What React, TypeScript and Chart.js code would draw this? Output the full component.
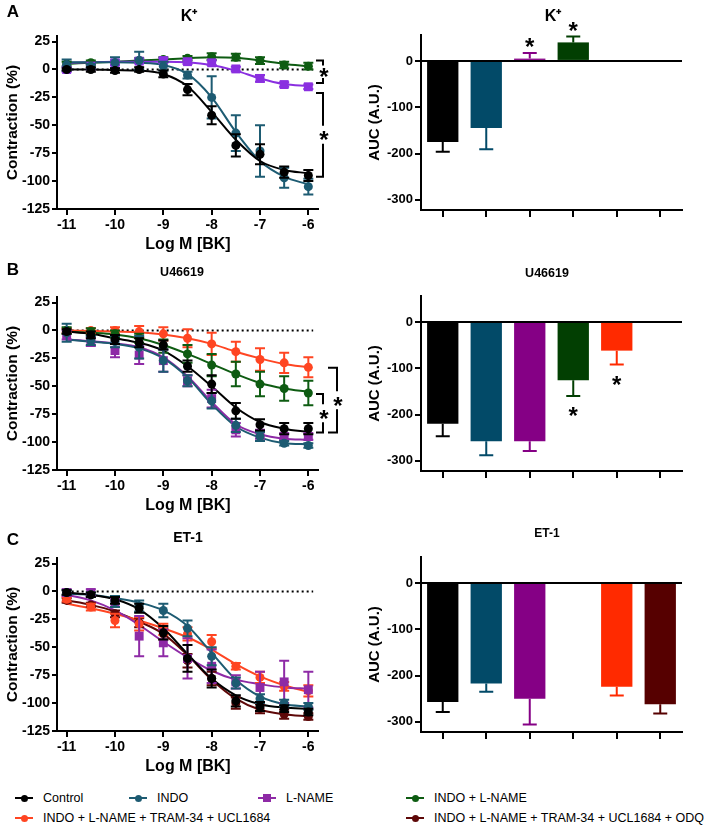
import React, { useEffect, useRef } from 'react';
import { Chart, registerables } from 'chart.js';

Chart.register(...registerables);

const FONT = '"Liberation Sans", Arial, Helvetica, sans-serif';

// ---------- shared axes / labels ----------
const LOG_BK = [-11, -10.5, -10, -9.5, -9, -8.5, -8, -7.5, -7, -6.5, -6];
const X_TICKS = [-11, -10, -9, -8, -7, -6];
const CURVE_Y_TICKS = [25, 0, -25, -50, -75, -100, -125];
const AUC_Y_TICKS = [0, -100, -200, -300];
const GROUPS = [
  'Control',
  'INDO',
  'L-NAME',
  'INDO + L-NAME',
  'INDO + L-NAME + TRAM-34 + UCL1684',
  'INDO + L-NAME + TRAM-34 + UCL1684 + ODQ',
];
const PANEL_LETTERS = ['A', 'B', 'C'];
const PANEL_TITLES = ['K⁺', 'U46619', 'ET-1'];
const X_TITLE = 'Log M [BK]';
const Y_TITLE_CURVE = 'Contraction (%)';
const Y_TITLE_AUC = 'AUC (A.U.)';

// ---------- Panel A : K+ ----------
const K_CONTROL = [0, 0, -1, 0, -4, -18, -41, -68, -76, -92, -95];
const K_CONTROL_SEM = [1, 2, 2, 2, 3, 5, 8, 10, 9, 5, 5];
const K_CONTROL_FIT = [0, 0, -0.5, -1, -4, -15, -38, -63, -82, -90, -93];
const K_INDO = [4, 3, 6, 8, 3, -5, -25, -57, -73, -97, -105];
const K_INDO_SEM = [5, 2, 5, 8, 4, 3, 19, 16, 23, 9, 7];
const K_INDO_FIT = [6.5, 6.5, 6.5, 6, 4, -4, -25, -56, -82, -96, -103];
const K_LNAME = [0, 3, 6, 7.5, 8, 7, 6, 0.5, -8, -13.5, -15.5];
const K_LNAME_SEM = [2, 2, 2, 2, 2, 2, 2, 2, 3, 2, 2];
const K_LNAME_FIT = [6, 6.5, 7, 7, 7, 6.5, 4, -1, -8, -13, -15];
const K_INDO_LNAME = [5, 6, 6, 8, 9, 10, 11.5, 11, 8, 4, 3];
const K_INDO_LNAME_SEM = [2, 2, 2, 2, 2, 2, 3, 3, 3, 3, 3];
const K_INDO_LNAME_FIT = [5, 6, 7, 8, 9, 10, 11, 10.5, 8, 5, 3];
const K_AUC = [-175, -145, 5, 40, null, null];
const K_AUC_SEM = [21, 46, 12, 13, null, null];
const K_AUC_SIG = [false, false, true, true, false, false];
const K_BRACKETS = [
  { top: 8, bottom: -12, level: 0 },
  { top: -21, bottom: -96, level: 0 },
];

// ---------- Panel B : U46619 ----------
const U_CONTROL = [-1, -4, -8, -11, -13, -32, -48, -72, -84.5, -88, -88];
const U_CONTROL_SEM = [2, 3, 4, 4, 4, 5, 8, 7, 5, 5, 5];
const U_CONTROL_FIT = [-1, -3, -7, -11, -18, -32, -50, -69, -82, -88, -91];
const U_INDO = [-2, -9, -10, -15, -27, -45, -63, -85, -95, -101, -103];
const U_INDO_SEM = [8, 4, 5, 10, 10, 5, 7, 6, 4, 2, 2];
const U_INDO_FIT = [-8, -10, -12, -16, -25, -42, -66, -86, -96, -101, -102];
const U_LNAME = [-4, -10, -18, -22, -27, -45, -61, -89, -93, -95, -95];
const U_LNAME_SEM = [4, 4, 6, 8, 10, 5, 8, 6, 4, 3, 3];
const U_LNAME_FIT = [-8, -9.5, -11.5, -15, -24, -41, -64, -84, -93, -97, -98];
const U_INDO_LNAME = [0, -1, -3, -7, -14, -21, -31, -39, -48, -52, -56];
const U_INDO_LNAME_SEM = [3, 3, 3, 4, 6, 8, 10, 11, 11, 11, 11];
const U_INDO_LNAME_FIT = [-1, -2, -3.5, -7, -13, -21, -30, -39, -47, -52, -55];
const U_TRAM = [0, 0, 0, -1, -3, -7, -12, -19, -26, -29, -33];
const U_TRAM_SEM = [2, 2, 3, 5, 6, 8, 10, 9, 10, 9, 9];
const U_TRAM_FIT = [0, -0.5, -1, -1.5, -3.5, -7, -12, -19, -25, -30, -33];
const U_AUC = [-220, -258, -258, -126, -62, null];
const U_AUC_SEM = [27, 30, 21, 34, 30, null];
const U_AUC_SIG = [false, false, false, true, true, false];
const U_BRACKETS = [
  { top: -57, bottom: -91.5, level: 0 },
  { top: -33.5, bottom: -91.5, level: 1 },
];

// ---------- Panel C : ET-1 ----------
const ET_CONTROL = [-1, -3, -8, -15, -37, -60, -78, -98, -103, -105, -108];
const ET_CONTROL_SEM = [2, 2, 3, 4, 6, 12, 8, 5, 4, 3, 3];
const ET_CONTROL_FIT = [-1, -3, -7, -16, -33, -56, -78, -93, -101, -104, -105];
const ET_INDO = [-1, -3, -9, -13, -17, -33, -58, -82, -96, -100, -103];
const ET_INDO_SEM = [2, 2, 5, 5, 6, 7, 8, 5, 4, 3, 3];
const ET_INDO_FIT = [-2, -3, -6, -10, -17, -31, -55, -79, -94, -101, -103];
const ET_LNAME = [-1, -1, -10, -40, -46, -60, -67, -81, -86, -81, -88];
const ET_LNAME_SEM = [3, 3, 4, 18, 12, 18, 15, 6, 14, 19, 16];
const ET_LNAME_FIT = [-3, -8, -17, -30, -45, -59, -71, -79, -83, -86, -87];
const ET_TRAM = [-7, -14, -26, -29, -34, -38, -45, -67, -77, -85, -89];
const ET_TRAM_SEM = [2, 3, 6, 6, 5, 6, 6, 3, 5, 4, 5];
const ET_TRAM_FIT = [-11, -15, -20, -26, -33, -41, -52, -65, -76, -84, -90];
const ET_ODQ = [-8, -12, -20, -28, -38, -62, -78, -100, -105, -110, -112];
const ET_ODQ_SEM = [2, 2, 3, 4, 5, 6, 6, 5, 4, 4, 3];
const ET_ODQ_FIT = [-8, -12, -18, -27, -38, -57, -79, -96, -106, -110, -112];
const ET_AUC = [-257, -217, -250, null, -224, -262];
const ET_AUC_SEM = [22, 18, 56, null, 19, 20];
const ET_AUC_SIG = [false, false, false, false, false, false];
const ET_BRACKETS: { top: number; bottom: number; level: number }[] = [];

// ---------- styles ----------
const GROUP_COLORS = ['#000000', '#1d5b72', '#8c2a9e', '#0e5c12', '#ff4522', '#5e0808'];
const LNAME_COLORS = ['#8a2fe0', '#8e2aa6', '#8e2aa6'];
const BAR_COLORS = ['#000000', '#024a68', '#850085', '#023f02', '#ff2a00', '#560000'];
const GROUP_MARKERS = ['circle', 'circle', 'rect', 'circle', 'circle', 'circle'];
const ROW_TOPS = [0, 261, 522];
const LETTER_Y = [12, 9, 18];
const TITLE_POS = [
  { x: 189, y: 17, size: 16 },
  { x: 182, y: 12, size: 12.5 },
  { x: 188, y: 16, size: 14 },
];
const AUC_TITLE_POS = [
  { x: 193, y: 17, size: 16 },
  { x: 187, y: 12.5, size: 12.5 },
  { x: 187, y: 11.5, size: 12 },
];

type SeriesDef = { group: number; mean: number[]; sem: number[]; fit: number[] };
type Panel = {
  series: SeriesDef[];
  auc: (number | null)[];
  aucSem: (number | null)[];
  aucSig: boolean[];
  brackets: { top: number; bottom: number; level: number }[];
};

const PANELS: Panel[] = [
  {
    series: [
      { group: 0, mean: K_CONTROL, sem: K_CONTROL_SEM, fit: K_CONTROL_FIT },
      { group: 1, mean: K_INDO, sem: K_INDO_SEM, fit: K_INDO_FIT },
      { group: 2, mean: K_LNAME, sem: K_LNAME_SEM, fit: K_LNAME_FIT },
      { group: 3, mean: K_INDO_LNAME, sem: K_INDO_LNAME_SEM, fit: K_INDO_LNAME_FIT },
    ],
    auc: K_AUC, aucSem: K_AUC_SEM, aucSig: K_AUC_SIG, brackets: K_BRACKETS,
  },
  {
    series: [
      { group: 0, mean: U_CONTROL, sem: U_CONTROL_SEM, fit: U_CONTROL_FIT },
      { group: 1, mean: U_INDO, sem: U_INDO_SEM, fit: U_INDO_FIT },
      { group: 2, mean: U_LNAME, sem: U_LNAME_SEM, fit: U_LNAME_FIT },
      { group: 3, mean: U_INDO_LNAME, sem: U_INDO_LNAME_SEM, fit: U_INDO_LNAME_FIT },
      { group: 4, mean: U_TRAM, sem: U_TRAM_SEM, fit: U_TRAM_FIT },
    ],
    auc: U_AUC, aucSem: U_AUC_SEM, aucSig: U_AUC_SIG, brackets: U_BRACKETS,
  },
  {
    series: [
      { group: 0, mean: ET_CONTROL, sem: ET_CONTROL_SEM, fit: ET_CONTROL_FIT },
      { group: 1, mean: ET_INDO, sem: ET_INDO_SEM, fit: ET_INDO_FIT },
      { group: 2, mean: ET_LNAME, sem: ET_LNAME_SEM, fit: ET_LNAME_FIT },
      { group: 4, mean: ET_TRAM, sem: ET_TRAM_SEM, fit: ET_TRAM_FIT },
      { group: 5, mean: ET_ODQ, sem: ET_ODQ_SEM, fit: ET_ODQ_FIT },
    ],
    auc: ET_AUC, aucSem: ET_AUC_SEM, aucSig: ET_AUC_SIG, brackets: ET_BRACKETS,
  },
];

function colorFor(group: number, panelIdx: number) {
  return group === 2 ? LNAME_COLORS[panelIdx] : GROUP_COLORS[group];
}

function drawStar(ctx: CanvasRenderingContext2D, x: number, y: number, size: number) {
  ctx.save();
  ctx.fillStyle = '#000';
  ctx.font = `bold ${size}px ${FONT}`;
  ctx.textAlign = 'center';
  ctx.textBaseline = 'alphabetic';
  ctx.fillText('*', x, y + size * 0.56);
  ctx.restore();
}

function drawText(ctx: CanvasRenderingContext2D, text: string, x: number, y: number, size: number, weight = 'bold', rotate = false) {
  ctx.save();
  ctx.fillStyle = '#000';
  ctx.font = `${weight} ${size}px ${FONT}`;
  ctx.textAlign = 'center';
  ctx.textBaseline = 'middle';
  ctx.translate(x, y);
  if (rotate) ctx.rotate(-Math.PI / 2);
  ctx.fillText(text, 0, 0);
  ctx.restore();
}

const errorBarPlugin = {
  id: 'errorBars',
  afterDatasetDraw(chart: any, args: any) {
    const ds = chart.data.datasets[args.index];
    if (!ds.errors) return;
    const y = chart.scales.y;
    const ctx: CanvasRenderingContext2D = chart.ctx;
    ctx.save();
    ctx.lineWidth = 2;
    args.meta.data.forEach((el: any, i: number) => {
      const raw = ds.data[i];
      const v = raw == null ? null : typeof raw === 'object' ? raw.y : raw;
      const e = ds.errors[i];
      if (v == null || e == null) return;
      ctx.strokeStyle = Array.isArray(ds.errorColor) ? ds.errorColor[i] : ds.errorColor;
      const px = el.x;
      const cap = ds.capHalf;
      const ends = ds.oneSided ? [v + (v >= 0 ? e : -e)] : [v + e, v - e];
      const yv = y.getPixelForValue(v);
      ends.forEach((end: number) => {
        const ye = y.getPixelForValue(end);
        ctx.beginPath();
        ctx.moveTo(px, yv);
        ctx.lineTo(px, ye);
        ctx.moveTo(px - cap, ye);
        ctx.lineTo(px + cap, ye);
        ctx.stroke();
      });
    });
    ctx.restore();
  },
};

const axisCommon = (size: number) => ({
  grid: { display: true, drawOnChartArea: false, drawTicks: true, color: '#000', lineWidth: 2 },
  border: { display: true, color: '#000', width: 2 },
  ticks: { color: '#000', font: { family: FONT, size, weight: 'bold' as const } },
});

function CurveChart({ p, idx }: { p: Panel; idx: number }) {
  const ref = useRef<HTMLCanvasElement>(null);
  useEffect(() => {
    if (!ref.current) return;
    const pointSets = p.series.map((s) => {
      const c = colorFor(s.group, idx);
      const rect = GROUP_MARKERS[s.group] === 'rect';
      return {
        type: 'line',
        label: GROUPS[s.group],
        data: LOG_BK.map((x, i) => ({ x, y: s.mean[i] })),
        showLine: false,
        pointStyle: GROUP_MARKERS[s.group],
        pointRadius: rect ? 6.3 : 4.5,
        pointBorderWidth: 0,
        backgroundColor: c,
        borderColor: c,
        errors: s.sem,
        errorColor: c,
        capHalf: 5,
        oneSided: false,
      };
    });
    const lineSets = p.series.map((s) => {
      const c = colorFor(s.group, idx);
      return {
        type: 'line',
        label: GROUPS[s.group] + ' fit',
        data: LOG_BK.map((x, i) => ({ x, y: s.fit[i] })),
        borderColor: c,
        backgroundColor: c,
        borderWidth: 2,
        pointRadius: 0,
        cubicInterpolationMode: 'monotone',
        fill: false,
      };
    });
    const decor = {
      id: 'curveDecor',
      beforeDatasetsDraw(chart: any) {
        const { ctx, scales } = chart;
        const y0 = scales.y.getPixelForValue(0);
        ctx.save();
        ctx.strokeStyle = '#000';
        ctx.lineWidth = 2;
        ctx.setLineDash([2, 3]);
        ctx.beginPath();
        ctx.moveTo(scales.x.getPixelForValue(-11), y0);
        ctx.lineTo(scales.x.getPixelForValue(-5.9), y0);
        ctx.stroke();
        ctx.restore();
      },
      afterDraw(chart: any) {
        const { ctx, chartArea, scales } = chart;
        drawText(ctx, PANEL_LETTERS[idx], 13, LETTER_Y[idx], 17);
        const t = TITLE_POS[idx];
        drawText(ctx, PANEL_TITLES[idx], t.x, t.y, t.size);
        drawText(ctx, Y_TITLE_CURVE, 13, (chartArea.top + chartArea.bottom) / 2, 15.5, 'bold', true);
        drawText(ctx, X_TITLE, 188, 245, 16);
        ctx.save();
        ctx.strokeStyle = '#000';
        ctx.lineWidth = 2;
        p.brackets.forEach((b) => {
          const x0 = chartArea.right + (b.level ? 10 : -2);
          const x1 = chartArea.right + (b.level ? 19 : 5);
          const yt = scales.y.getPixelForValue(b.top);
          const yb = scales.y.getPixelForValue(b.bottom);
          const ym = (yt + yb) / 2;
          const gap = Math.min(9, (yb - yt) / 2 - 5);
          ctx.beginPath();
          ctx.moveTo(x0, yt);
          ctx.lineTo(x1, yt);
          ctx.lineTo(x1, ym - gap);
          ctx.moveTo(x1, ym + gap);
          ctx.lineTo(x1, yb);
          ctx.lineTo(x0, yb);
          ctx.stroke();
          drawStar(ctx, x1 + 1, ym, 24);
        });
        ctx.restore();
      },
    };
    const xc = axisCommon(14);
    const yc = axisCommon(14);
    const chart = new Chart(ref.current, {
      type: 'line',
      data: { datasets: [...pointSets, ...lineSets] as any },
      options: {
        responsive: false,
        animation: false,
        events: [],
        layout: { padding: { top: 36, right: 27, left: 0, bottom: 0 } },
        plugins: { legend: { display: false }, tooltip: { enabled: false } },
        scales: {
          x: {
            type: 'linear',
            min: -11.2,
            max: -5.8,
            ...xc,
            grid: { ...xc.grid, tickLength: 6 },
            ticks: { ...xc.ticks, padding: 2, callback: (v: any) => String(v) },
            afterBuildTicks: (s: any) => { s.ticks = X_TICKS.map((v) => ({ value: v })); },
            afterFit: (s: any) => { s.height = 49; },
          },
          y: {
            type: 'linear',
            min: -125,
            max: 30,
            ...yc,
            grid: { ...yc.grid, tickLength: 5 },
            ticks: { ...yc.ticks, padding: 2, callback: (v: any) => String(v) },
            afterBuildTicks: (s: any) => { s.ticks = CURVE_Y_TICKS.map((v) => ({ value: v })); },
            afterFit: (s: any) => { s.width = 57; },
          },
        },
      } as any,
      plugins: [errorBarPlugin, decor] as any,
    });
    return () => chart.destroy();
  }, []);
  return (
    <canvas
      ref={ref}
      width={345}
      height={258}
      style={{ position: 'absolute', left: 0, top: ROW_TOPS[idx], width: 345, height: 258 }}
    />
  );
}

function AucChart({ p, idx }: { p: Panel; idx: number }) {
  const ref = useRef<HTMLCanvasElement>(null);
  useEffect(() => {
    if (!ref.current) return;
    const decor = {
      id: 'aucDecor',
      beforeDatasetsDraw(chart: any) {
        const { ctx, chartArea, scales } = chart;
        const y0 = scales.y.getPixelForValue(0);
        ctx.save();
        ctx.strokeStyle = '#000';
        ctx.lineWidth = 2;
        ctx.beginPath();
        ctx.moveTo(chartArea.left, y0);
        ctx.lineTo(chartArea.right, y0);
        ctx.stroke();
        ctx.restore();
      },
      afterDraw(chart: any) {
        const { ctx, chartArea, scales } = chart;
        const t = AUC_TITLE_POS[idx];
        drawText(ctx, PANEL_TITLES[idx], t.x, t.y, t.size);
        drawText(ctx, Y_TITLE_AUC, 15, (chartArea.top + chartArea.bottom) / 2, 15, 'bold', true);
        const meta = chart.getDatasetMeta(0);
        p.aucSig.forEach((sig, i) => {
          const v = p.auc[i];
          const e = p.aucSem[i];
          if (!sig || v == null || e == null) return;
          const end = v + (v >= 0 ? e : -e);
          const ye = scales.y.getPixelForValue(end);
          const ys = v >= 0 ? ye - 11 : ye + 15;
          drawStar(ctx, meta.data[i].x, ys, 24);
        });
      },
    };
    const xc = axisCommon(13);
    const yc = axisCommon(13);
    const chart = new Chart(ref.current, {
      type: 'bar',
      data: {
        labels: GROUPS,
        datasets: [
          {
            label: 'AUC',
            data: p.auc,
            backgroundColor: BAR_COLORS,
            borderWidth: 0,
            barPercentage: 0.72,
            categoryPercentage: 1,
            errors: p.aucSem,
            errorColor: BAR_COLORS,
            capHalf: 7,
            oneSided: true,
          } as any,
        ],
      },
      options: {
        responsive: false,
        animation: false,
        events: [],
        layout: { padding: { top: 35, right: 27, left: 0, bottom: 0 } },
        plugins: { legend: { display: false }, tooltip: { enabled: false } },
        scales: {
          x: {
            ...xc,
            grid: { ...xc.grid, tickLength: 7, offset: false },
            ticks: { ...xc.ticks, display: false },
            afterFit: (s: any) => { s.height = 48; },
          },
          y: {
            type: 'linear',
            min: -322,
            max: 56,
            ...yc,
            grid: { ...yc.grid, tickLength: 6 },
            ticks: { ...yc.ticks, padding: 2, callback: (v: any) => String(v) },
            afterBuildTicks: (s: any) => { s.ticks = AUC_Y_TICKS.map((v) => ({ value: v })); },
            afterFit: (s: any) => { s.width = 61; },
          },
        },
      } as any,
      plugins: [errorBarPlugin, decor] as any,
    });
    return () => chart.destroy();
  }, []);
  return (
    <canvas
      ref={ref}
      width={349}
      height={258}
      style={{ position: 'absolute', left: 360, top: ROW_TOPS[idx], width: 349, height: 258 }}
    />
  );
}

const LEGEND_POS = [
  { x: 24, y: 798 },
  { x: 138, y: 798 },
  { x: 267, y: 798 },
  { x: 415, y: 798 },
  { x: 24, y: 818 },
  { x: 415, y: 818 },
];

function Legend() {
  return (
    <>
      {GROUPS.map((g, i) => {
        const pos = LEGEND_POS[i];
        const c = i === 2 ? LNAME_COLORS[1] : GROUP_COLORS[i];
        const rect = GROUP_MARKERS[i] === 'rect';
        const m = rect ? 8 : 7;
        return (
          <React.Fragment key={g}>
            <div style={{ position: 'absolute', left: pos.x - 9, top: pos.y - 1, width: 18, height: 2, background: c }} />
            <div
              style={{
                position: 'absolute',
                left: pos.x - m / 2,
                top: pos.y - m / 2,
                width: m,
                height: m,
                background: c,
                borderRadius: rect ? 0 : '50%',
              }}
            />
            <div
              style={{
                position: 'absolute',
                left: pos.x + 19,
                top: pos.y - 8,
                height: 16,
                lineHeight: '16px',
                fontSize: 12.5,
                fontFamily: FONT,
                color: '#000',
                whiteSpace: 'nowrap',
              }}
            >
              {g}
            </div>
          </React.Fragment>
        );
      })}
    </>
  );
}

export default function App() {
  return (
    <div
      style={{
        position: 'absolute',
        left: 0,
        top: 0,
        width: 709,
        height: 826,
        background: '#fff',
        overflow: 'hidden',
      }}
    >
      {PANELS.map((p, i) => (
        <React.Fragment key={i}>
          <CurveChart p={p} idx={i} />
          <AucChart p={p} idx={i} />
        </React.Fragment>
      ))}
      <Legend />
    </div>
  );
}
